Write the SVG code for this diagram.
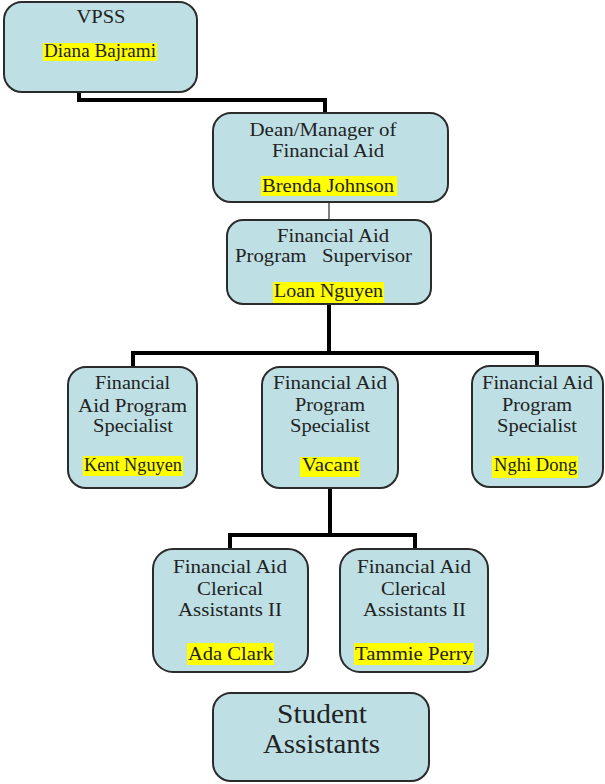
<svg xmlns="http://www.w3.org/2000/svg" width="605" height="784" viewBox="0 0 605 784">
<style>
.box{fill:#bee0e5;stroke:#2b2b2b;stroke-width:2}
.t{font-family:"Liberation Serif","Times New Roman",serif;font-size:18px;fill:#222;text-anchor:middle;white-space:pre}
.big{font-size:28px}
.hl{fill:#ffff00}
.thick{fill:none;stroke:#000;stroke-width:4}
.thin{fill:none;stroke:#555;stroke-width:1.5}
</style>
<rect width="605" height="784" fill="#fff"/>
<g id="connectors">
<path class="thick" d="M79,92 V100 H325 V113"/>
<path class="thin" d="M329,202 V220"/>
<path class="thick" d="M329,304 V353 M133,367 V353 H537 V366"/>
<path class="thick" d="M330,488 V535 M230,549 V535 H415 V549"/>
</g>
<g id="vpss">
<rect class="box" x="4" y="2" width="193" height="90" rx="18"/>
<text class="t" x="101" y="23" textLength="49" lengthAdjust="spacingAndGlyphs">VPSS</text>
<rect class="hl" x="43" y="43" width="114" height="18"/>
<text class="t" x="100" y="57" textLength="112" lengthAdjust="spacingAndGlyphs">Diana Bajrami</text>
</g>
<g id="dean">
<rect class="box" x="213" y="113" width="235" height="89" rx="18"/>
<text class="t" x="323" y="136" textLength="147" lengthAdjust="spacingAndGlyphs">Dean/Manager of</text>
<text class="t" x="328" y="157" textLength="112" lengthAdjust="spacingAndGlyphs">Financial Aid</text>
<rect class="hl" x="261" y="176" width="136" height="20"/>
<text class="t" x="328" y="192" textLength="132" lengthAdjust="spacingAndGlyphs">Brenda Johnson</text>
</g>
<g id="supervisor">
<rect class="box" x="227" y="220" width="204" height="84" rx="16"/>
<text class="t" x="333" y="242" textLength="112" lengthAdjust="spacingAndGlyphs">Financial Aid</text>
<text class="t" x="323.5" y="262" textLength="177" lengthAdjust="spacingAndGlyphs">Program   Supervisor</text>
<rect class="hl" x="273" y="282" width="111" height="21"/>
<text class="t" x="328.5" y="297" textLength="109" lengthAdjust="spacingAndGlyphs">Loan Nguyen</text>
</g>
<g id="spec-kent">
<rect class="box" x="68" y="367" width="129" height="121" rx="18"/>
<text class="t" x="132.5" y="389" textLength="75" lengthAdjust="spacingAndGlyphs">Financial</text>
<text class="t" x="132.5" y="412" textLength="109" lengthAdjust="spacingAndGlyphs">Aid Program</text>
<text class="t" x="133" y="432" textLength="80" lengthAdjust="spacingAndGlyphs">Specialist</text>
<rect class="hl" x="83" y="456" width="100" height="20"/>
<text class="t" x="133" y="471" textLength="98" lengthAdjust="spacingAndGlyphs">Kent Nguyen</text>
</g>
<g id="spec-vacant">
<rect class="box" x="262" y="367" width="136" height="121" rx="18"/>
<text class="t" x="330" y="389" textLength="114" lengthAdjust="spacingAndGlyphs">Financial Aid</text>
<text class="t" x="330" y="411" textLength="70" lengthAdjust="spacingAndGlyphs">Program</text>
<text class="t" x="330" y="432" textLength="80" lengthAdjust="spacingAndGlyphs">Specialist</text>
<rect class="hl" x="300" y="457" width="60" height="20"/>
<text class="t" x="330.5" y="471" textLength="57" lengthAdjust="spacingAndGlyphs">Vacant</text>
</g>
<g id="spec-nghi">
<rect class="box" x="472" y="366" width="131" height="121" rx="18"/>
<text class="t" x="537.5" y="389" textLength="111" lengthAdjust="spacingAndGlyphs">Financial Aid</text>
<text class="t" x="537" y="411" textLength="70" lengthAdjust="spacingAndGlyphs">Program</text>
<text class="t" x="537" y="432" textLength="80" lengthAdjust="spacingAndGlyphs">Specialist</text>
<rect class="hl" x="492" y="456" width="86" height="22"/>
<text class="t" x="535.5" y="471" textLength="83" lengthAdjust="spacingAndGlyphs">Nghi Dong</text>
</g>
<g id="clerical-ada">
<rect class="box" x="153" y="549" width="155" height="123" rx="20"/>
<text class="t" x="230" y="573" textLength="114" lengthAdjust="spacingAndGlyphs">Financial Aid</text>
<text class="t" x="230" y="595" textLength="66" lengthAdjust="spacingAndGlyphs">Clerical</text>
<text class="t" x="230" y="616" textLength="104" lengthAdjust="spacingAndGlyphs">Assistants II</text>
<rect class="hl" x="187" y="643" width="87" height="22"/>
<text class="t" x="230.5" y="660" textLength="85" lengthAdjust="spacingAndGlyphs">Ada Clark</text>
</g>
<g id="clerical-tammie">
<rect class="box" x="340" y="549" width="148" height="123" rx="20"/>
<text class="t" x="414" y="573" textLength="114" lengthAdjust="spacingAndGlyphs">Financial Aid</text>
<text class="t" x="413.5" y="595" textLength="65" lengthAdjust="spacingAndGlyphs">Clerical</text>
<text class="t" x="414.5" y="616" textLength="103" lengthAdjust="spacingAndGlyphs">Assistants II</text>
<rect class="hl" x="354" y="643" width="120" height="22"/>
<text class="t" x="414" y="660" textLength="118" lengthAdjust="spacingAndGlyphs">Tammie Perry</text>
</g>
<g id="student">
<rect class="box" x="213" y="693" width="216" height="88" rx="18"/>
<text class="t big" x="322" y="723" textLength="90" lengthAdjust="spacingAndGlyphs">Student</text>
<text class="t big" x="321.5" y="753" textLength="117" lengthAdjust="spacingAndGlyphs">Assistants</text>
</g>
</svg>
